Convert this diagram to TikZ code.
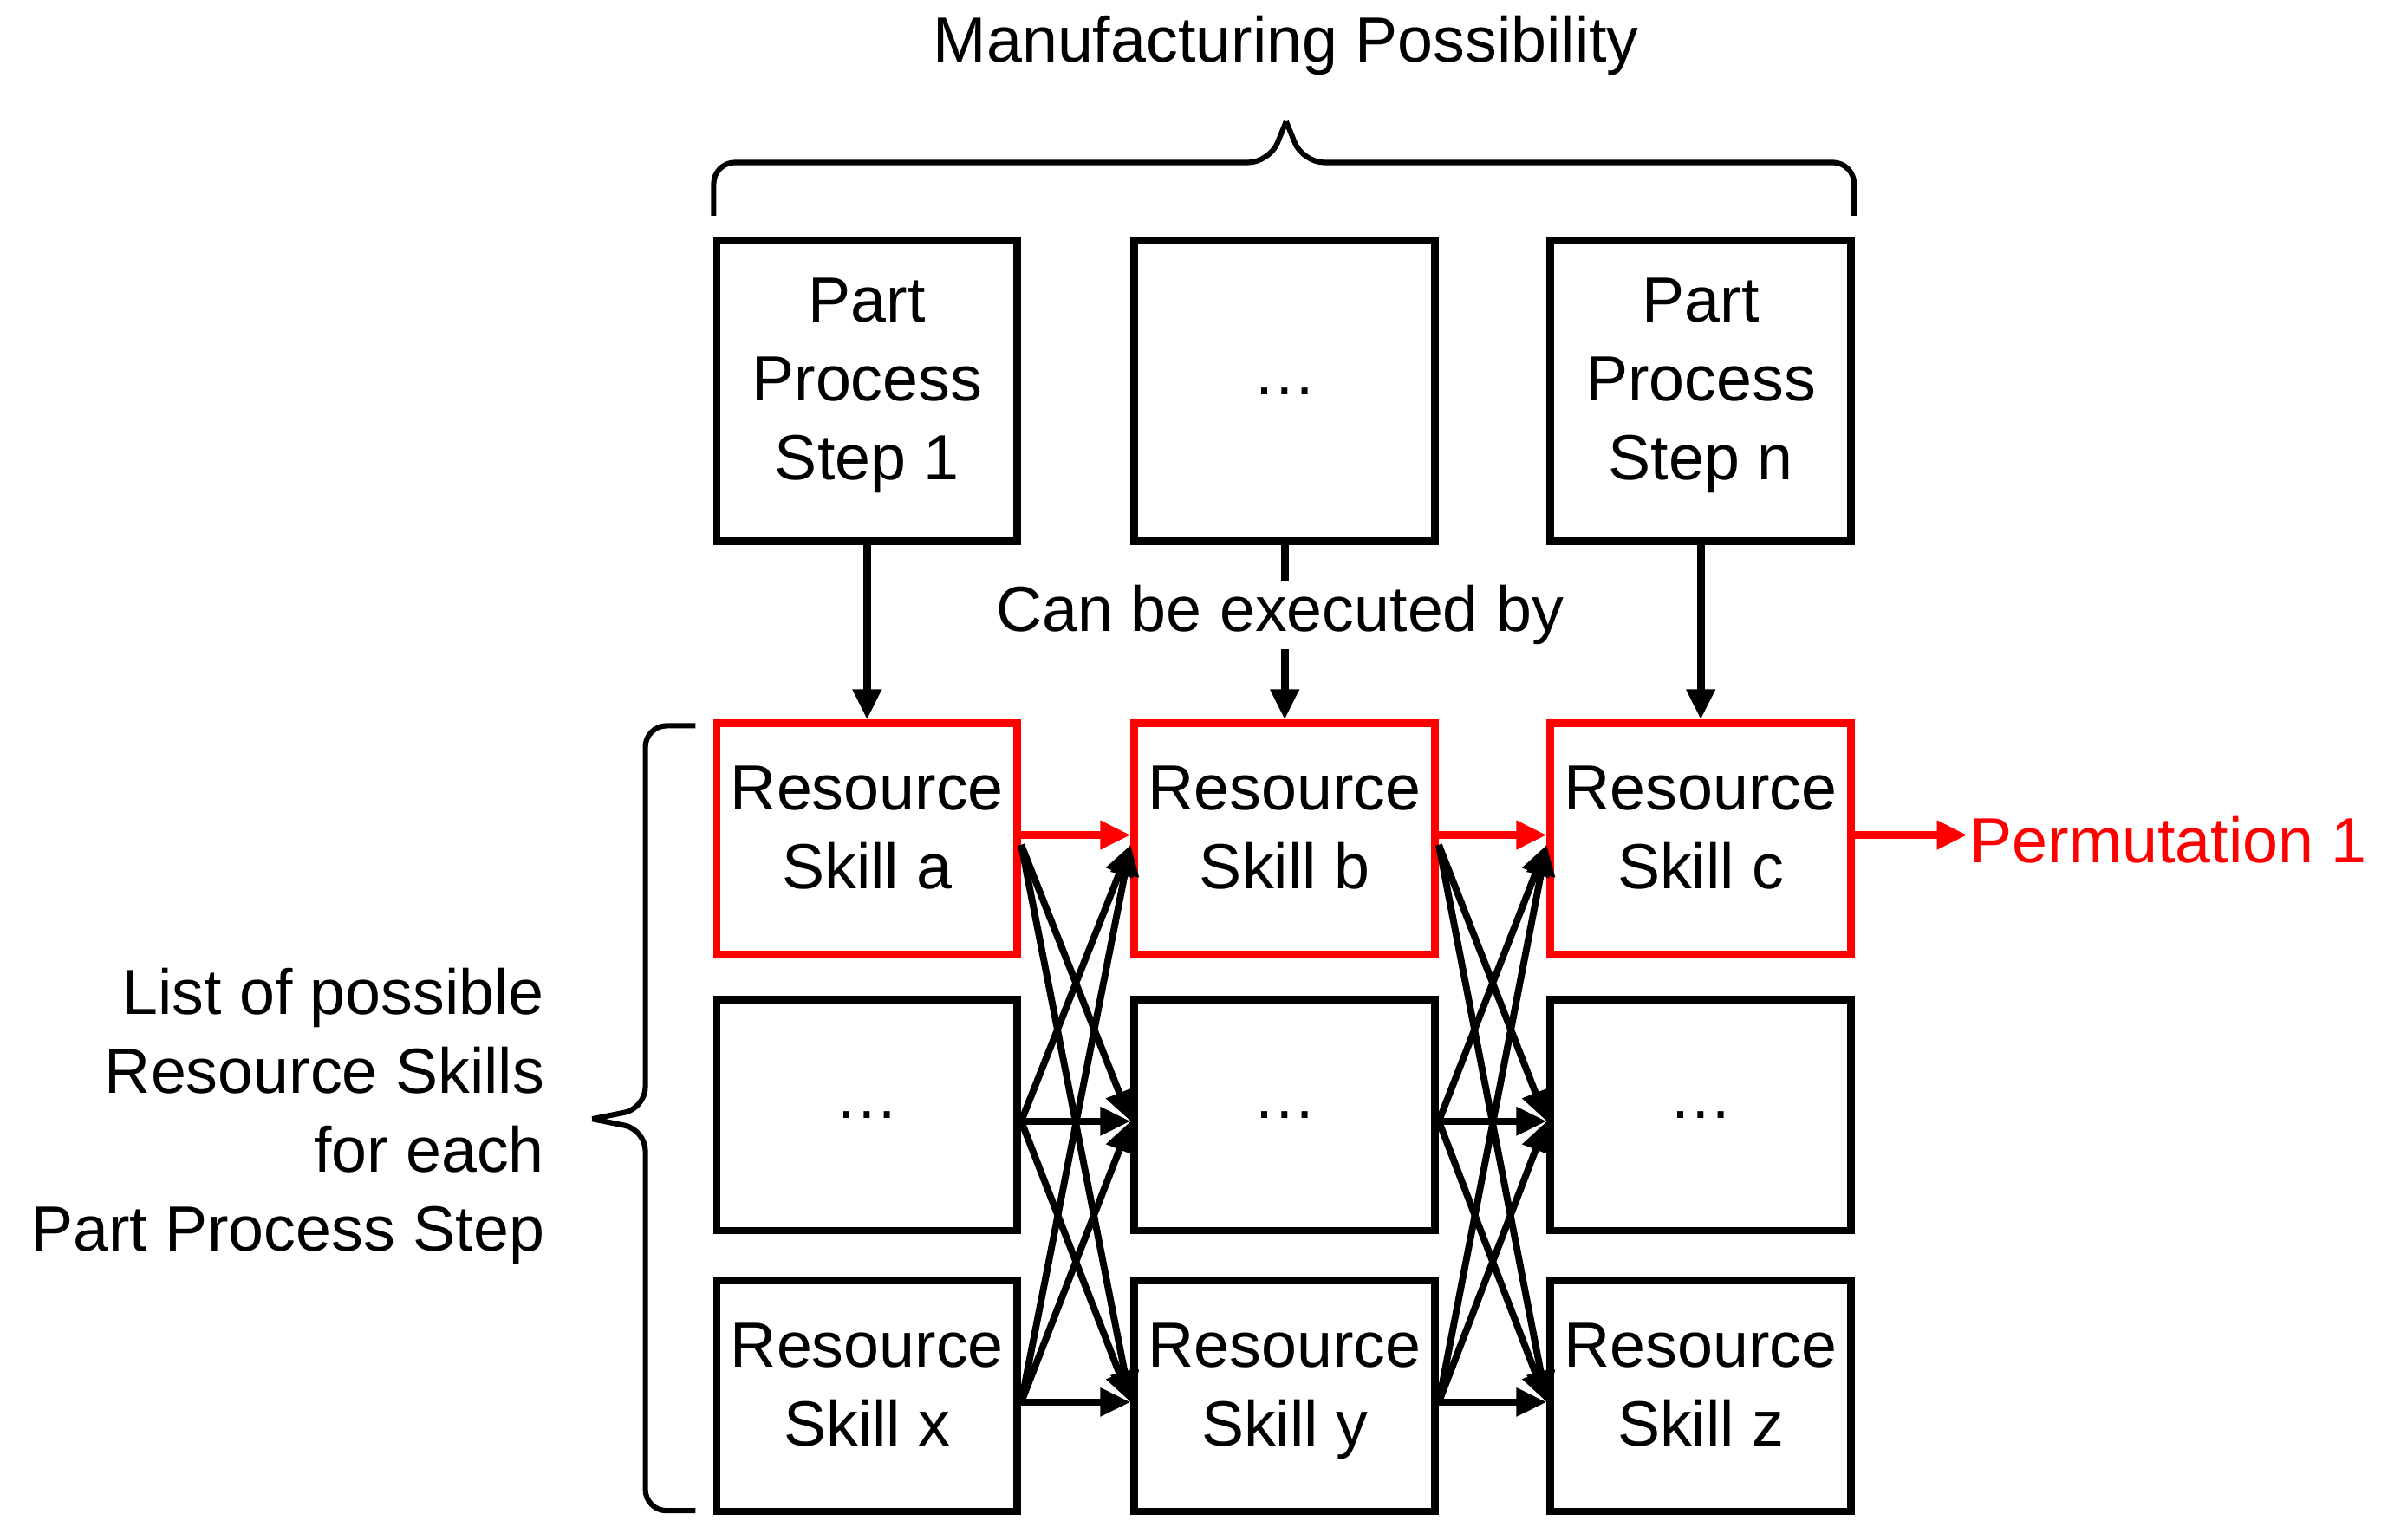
\documentclass[tikz,border=0pt]{standalone}
\usepackage{fontspec}
\setmainfont{Liberation Sans}
\usetikzlibrary{arrows.meta}
\begin{document}
\begin{tikzpicture}[x=1pt,y=-1pt,
  box/.style={draw,line width=5pt,minimum width=198pt,minimum height=152pt,align=center,inner sep=0pt,font=\fontsize{42}{52}\selectfont},
  tbox/.style={box,minimum height=198pt},
  rbox/.style={box,draw=red},
  arr/.style={line width=5pt,-{Triangle[length=20pt,width=18pt]}},
  br/.style={line width=3.5pt,rounded corners=14pt},
  lbl/.style={font=\fontsize{42}{52}\selectfont}]
\useasboundingbox (0,0) rectangle (1568,1014);
\node[tbox] (p1) at (571,257.5) {Part\\Process\\Step 1\strut};
\node[tbox] (p2) at (846,257.5) {\dots};
\node[tbox] (p3) at (1120,257.5) {Part\\Process\\Step n\strut};
\node[rbox] (a) at (571,552.5) {Resource\\Skill a\strut};
\node[rbox] (b) at (846,552.5) {Resource\\Skill b\strut};
\node[rbox] (c) at (1120,552.5) {Resource\\Skill c\strut};
\node[box] (d1) at (571,734.5) {\dots};
\node[box] (d2) at (846,734.5) {\dots};
\node[box] (d3) at (1120,734.5) {\dots};
\node[box] (x) at (571,919.5) {Resource\\Skill x\strut};
\node[box] (y) at (846,919.5) {Resource\\Skill y\strut};
\node[box] (z) at (1120,919.5) {Resource\\Skill z\strut};
\draw[arr] (p1) -- (a);
\draw[arr] (p3) -- (c);
\draw[arr] (p2) -- (b);
\node[lbl,fill=white,inner sep=3pt] (can) at (843,405) {Can be executed by};
\node[lbl] (title) at (847,30) {Manufacturing Possibility};
\draw[br] (470,142) -- (470,107) -- (836,107) -- (847,80);
\draw[br] (1221,142) -- (1221,107) -- (858,107) -- (847,80);
\draw[br] (458,478) -- (425,478) -- (425,730) -- (390,737);
\draw[br] (458,995) -- (425,995) -- (425,744) -- (390,737);
\node[lbl,align=right,anchor=east] (lst) at (362,735) {List of possible\\Resource Skills\\for each\\Part Process Step};
% red chain
\draw[arr,red] (a.east |- 0,550) -- (b.west |- 0,550);
\draw[arr,red] (b.east |- 0,550) -- (c.west |- 0,550);
\draw[arr,red] (c.east |- 0,550) -- ++(74,0) coordinate (pe);
\node[lbl,red,anchor=west,inner sep=2pt] (perm) at (1295,553) {Permutation 1};
% cross arrows
\foreach \s/\t in {a/d2,a/y,d1/b,d1/d2,d1/y,x/b,x/d2,x/y,b/d3,b/z,d2/c,d2/d3,d2/z,y/c,y/d3,y/z}{
  \draw[arr,line width=4.5pt] ([yshift=-4pt]\s.east) -- ([yshift=-4pt]\t.west);
}
\end{tikzpicture}
\end{document}
